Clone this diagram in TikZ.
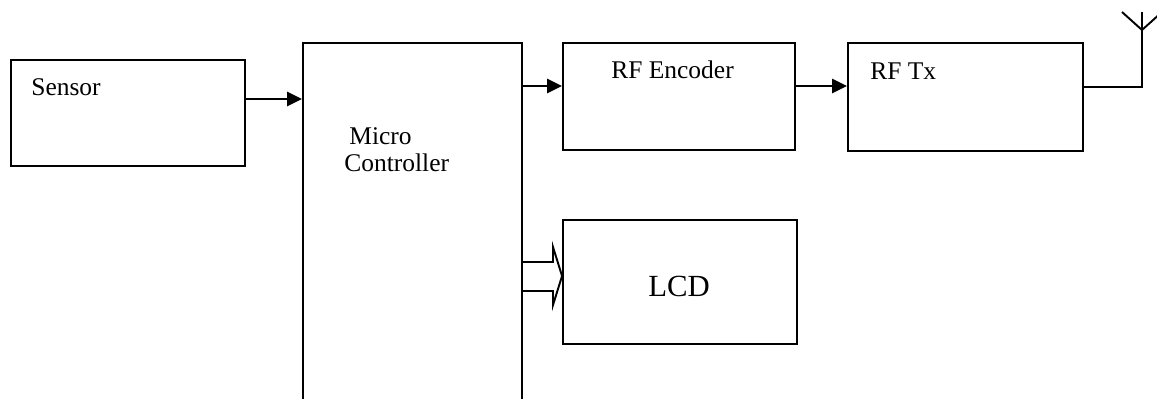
\documentclass[tikz,border=0pt]{standalone}
\usepackage{fontspec}
\setmainfont{Liberation Serif}
\usetikzlibrary{arrows.meta,positioning,calc}
\tikzset{
    blocknode/.style={
        rectangle,
        draw,
        line width=1.1pt,
        inner sep=0pt
    },
    sig/.style={
        -{Triangle[length=8.5pt,width=8pt]},
        line width=1.2pt
    },
    lbl/.style={
        anchor=base west,
        inner sep=0pt,
        font=\fontsize{14.5}{17}\selectfont
    }
}
\begin{document}
\begin{tikzpicture}[x=0.02cm,y=-0.02cm]
    \useasboundingbox (0,0) rectangle (1157,399);
    % Blocks
    \node[blocknode, minimum width=4.68cm, minimum height=2.12cm] (sensor) at (128,113) {};
    \node[blocknode, minimum width=4.38cm, minimum height=7.54cm] (micro) at (412.5,231.5) {};
    \node[blocknode, minimum width=4.64cm, minimum height=2.14cm] (rfenc) at (679,96.5) {};
    \node[blocknode, minimum width=4.70cm, minimum height=2.16cm] (rftx) at (965.5,97) {};
    \node[blocknode, minimum width=4.68cm, minimum height=2.48cm] (lcd) at (680,282) {};

    % Labels
    \node[lbl] (sensorlbl) at (31,95) {Sensor};
    \node[lbl] (microlbl) at (349,144) {Micro};
    \node[lbl] (ctrllbl) at (344,171) {Controller};
    \node[lbl] (rfenclbl) at (611,78) {RF Encoder};
    \node[lbl] (rftxlbl) at (870,79) {RF Tx};
    \node[lbl, font=\fontsize{17.5}{20}\selectfont] (lcdlbl) at (648,296) {LCD};

    % Connections
    \draw[sig] (sensor.east |- 0,99) -- (micro.west |- 0,99);
    \draw[sig] (micro.east |- 0,86) -- (rfenc.west |- 0,86);
    \draw[sig] (rfenc.east |- 0,86) -- (rftx.west |- 0,86);

    % Bus to LCD
    \draw[line width=1.1pt] (micro.east |- 0,262) -- (553,262) -- (553,247)
        -- (lcd.west |- 0,276) -- (553,305) -- (553,291) -- (micro.east |- 0,291);

    % Antenna
    \coordinate (ant) at (1142,30);
    \draw[line width=1.1pt] (rftx.east |- 0,87) -- (ant |- 0,87) -- (1142,12);
    \draw[line width=1.1pt] (1122,12) -- (ant) -- (1162,12);
\end{tikzpicture}
\end{document}
